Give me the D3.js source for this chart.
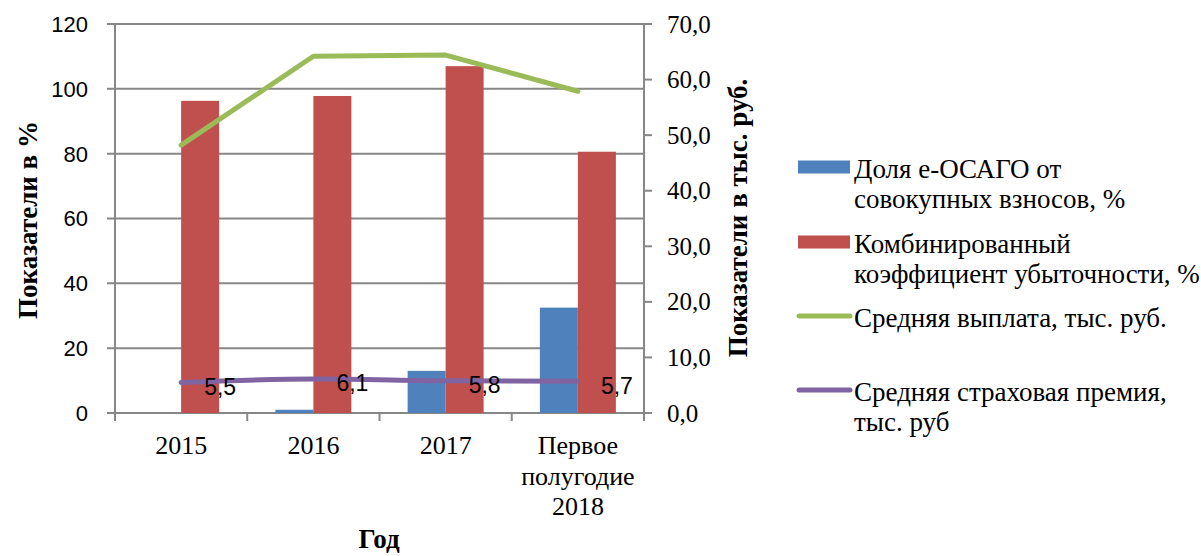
<!DOCTYPE html>
<html>
<head>
<meta charset="utf-8">
<script src="https://cdn.jsdelivr.net/npm/d3@7"></script>
<style>
  body { margin: 0; background: #fff; }
  svg { display: block; }
</style>
</head>
<body>
<div id="chart"></div>
<script>
// chart data
const categories = ["2015", "2016", "2017", "Первое полугодие 2018"]
const categoryLines = [["2015"], ["2016"], ["2017"], ["Первое", "полугодие", "2018"]]
const eosagoShare = [0, 1, 13, 32.5]          // %, left axis
const lossRatio = [96.3, 97.8, 107, 80.6]      // %, left axis
const avgPayout = [48.2, 64.2, 64.4, 57.9]     // тыс. руб., right axis
const avgPremium = [5.5, 6.1, 5.8, 5.7]        // тыс. руб., right axis
const premiumLabels = ["5,5", "6,1", "5,8", "5,7"]
const leftTicks = [0, 20, 40, 60, 80, 100, 120]
const rightTicks = [0, 10, 20, 30, 40, 50, 60, 70]

const W = 1201, H = 556
const plot = { left: 115, right: 644, top: 24, bottom: 413 }
const gridColor = "#878787"
const serif = "'Liberation Serif', 'Times New Roman', serif"
const sans = "'Liberation Sans', Arial, sans-serif"

const svg = d3.select("#chart").append("svg")
    .attr("width", W)
    .attr("height", H)

const x = d3.scaleBand()
    .domain(categories)
    .range([plot.left, plot.right])

const xSub = d3.scaleBand()
    .domain(["share", "loss"])
    .range([0, x.bandwidth()])
    .paddingInner(0)
    .paddingOuter(0.74)

const yL = d3.scaleLinear().domain([0, 120]).range([plot.bottom, plot.top])
const yR = d3.scaleLinear().domain([0, 70]).range([plot.bottom, plot.top])

// horizontal gridlines + left ticks
svg.append("g").selectAll("line")
    .data(leftTicks)
    .join("line")
    .attr("x1", plot.left - 8)
    .attr("x2", plot.right)
    .attr("y1", d => yL(d))
    .attr("y2", d => yL(d))
    .attr("stroke", gridColor)
    .attr("stroke-width", 2)

// left axis line
svg.append("line")
    .attr("x1", plot.left).attr("x2", plot.left)
    .attr("y1", plot.top).attr("y2", plot.bottom + 8)
    .attr("stroke", gridColor).attr("stroke-width", 2)

// bottom category ticks
const bounds = categories.map(c => x(c)).concat([plot.right])
svg.append("g").selectAll("line")
    .data(bounds)
    .join("line")
    .attr("x1", d => d).attr("x2", d => d)
    .attr("y1", plot.bottom).attr("y2", plot.bottom + 8)
    .attr("stroke", gridColor).attr("stroke-width", 2)

// right axis
svg.append("line")
    .attr("x1", plot.right).attr("x2", plot.right)
    .attr("y1", plot.top).attr("y2", plot.bottom + 8)
    .attr("stroke", gridColor).attr("stroke-width", 2)

svg.append("g").selectAll("line")
    .data(rightTicks)
    .join("line")
    .attr("x1", plot.right).attr("x2", plot.right + 8)
    .attr("y1", d => yR(d)).attr("y2", d => yR(d))
    .attr("stroke", gridColor).attr("stroke-width", 2)

// tick labels
svg.append("g").selectAll("text")
    .data(leftTicks)
    .join("text")
    .attr("x", 88)
    .attr("y", d => yL(d))
    .attr("dy", "0.36em")
    .attr("text-anchor", "end")
    .style("font-family", sans)
    .style("font-size", "22px")
    .text(d => d)

svg.append("g").selectAll("text")
    .data(rightTicks)
    .join("text")
    .attr("x", 667)
    .attr("y", d => yR(d))
    .attr("dy", "0.34em")
    .style("font-family", serif)
    .style("font-size", "25px")
    .text(d => d.toFixed(1).replace(".", ","))

// category labels
const catG = svg.append("g").selectAll("text")
    .data(categories)
    .join("text")
    .attr("text-anchor", "middle")
    .style("font-family", serif)
    .style("font-size", "26px")
catG.each(function (d, i) {
    const t = d3.select(this)
    categoryLines[i].forEach((line, k) => {
        t.append("tspan")
            .attr("x", x(d) + x.bandwidth() / 2)
            .attr("y", 454 + k * 30.5)
            .text(line)
    })
})

// bars
const barColors = { share: "#4f81bd", loss: "#c0504d" }
const barRows = categories.map((c, i) => ({ c, share: eosagoShare[i], loss: lossRatio[i] }))
const groups = svg.append("g").selectAll("g")
    .data(barRows)
    .join("g")
    .attr("transform", d => `translate(${x(d.c)},0)`)
groups.selectAll("rect")
    .data(d => ["share", "loss"].map(k => ({ k, v: d[k] })))
    .join("rect")
    .attr("x", d => xSub(d.k))
    .attr("width", xSub.bandwidth())
    .attr("y", d => yL(d.v))
    .attr("height", d => plot.bottom - yL(d.v))
    .attr("fill", d => barColors[d.k])

// lines
const cx = c => x(c) + x.bandwidth() / 2
const line = d3.line()
    .x(d => cx(d.c))
    .y(d => yR(d.v))

svg.append("path")
    .datum(categories.map((c, i) => ({ c, v: avgPayout[i] })))
    .attr("d", line)
    .attr("fill", "none")
    .attr("stroke", "#9bbb59")
    .attr("stroke-width", 5)
    .attr("stroke-linecap", "round")
    .attr("stroke-linejoin", "round")

const premiumPts = categories.map((c, i) => ({ c, v: avgPremium[i], label: premiumLabels[i] }))
svg.append("path")
    .datum(premiumPts)
    .attr("d", d3.line().x(d => cx(d.c)).y(d => yR(d.v)).curve(d3.curveMonotoneX))
    .attr("fill", "none")
    .attr("stroke", "#8064a2")
    .attr("stroke-width", 5)
    .attr("stroke-linecap", "round")

svg.append("g").selectAll("text")
    .data(premiumPts)
    .join("text")
    .attr("x", d => cx(d.c) + 23)
    .attr("y", d => yR(d.v) + 4)
    .attr("dy", "0.36em")
    .style("font-family", sans)
    .style("font-size", "23px")
    .text(d => d.label)

// axis titles
svg.append("text")
    .attr("transform", `translate(37, 220) rotate(-90)`)
    .attr("text-anchor", "middle")
    .style("font-family", serif)
    .style("font-size", "27px")
    .style("font-weight", "bold")
    .text("Показатели в %")

svg.append("text")
    .attr("transform", `translate(747, 218) rotate(-90)`)
    .attr("text-anchor", "middle")
    .style("font-family", serif)
    .style("font-size", "27px")
    .style("font-weight", "bold")
    .text("Показатели в тыс. руб.")

svg.append("text")
    .attr("x", 379)
    .attr("y", 548)
    .attr("text-anchor", "middle")
    .style("font-family", serif)
    .style("font-size", "27px")
    .style("font-weight", "bold")
    .text("Год")

// legend
const legendItems = [
    { type: "rect", color: "#4f81bd", y: 167, lines: ["Доля e-ОСАГО от", "совокупных взносов, %"] },
    { type: "rect", color: "#c0504d", y: 242, lines: ["Комбинированный", "коэффициент убыточности, %"] },
    { type: "line", color: "#9bbb59", y: 316, lines: ["Средняя выплата, тыс. руб."] },
    { type: "line", color: "#8064a2", y: 390, lines: ["Средняя страховая премия,", "тыс. руб"] }
]
const leg = svg.append("g").selectAll("g")
    .data(legendItems)
    .join("g")
leg.filter(d => d.type === "rect").append("rect")
    .attr("x", 798).attr("width", 52)
    .attr("y", d => d.y - 6.5).attr("height", 13)
    .attr("fill", d => d.color)
leg.filter(d => d.type === "line").append("line")
    .attr("x1", 799).attr("x2", 850)
    .attr("y1", d => d.y).attr("y2", d => d.y)
    .attr("stroke", d => d.color)
    .attr("stroke-width", 5)
    .attr("stroke-linecap", "round")
leg.append("text")
    .style("font-family", serif)
    .style("font-size", "27px")
    .each(function (d) {
        const t = d3.select(this)
        d.lines.forEach((l, k) => {
            t.append("tspan")
                .attr("x", 854)
                .attr("y", d.y + 11 + k * 30)
                .text(l)
        })
    })
</script>
</body>
</html>
